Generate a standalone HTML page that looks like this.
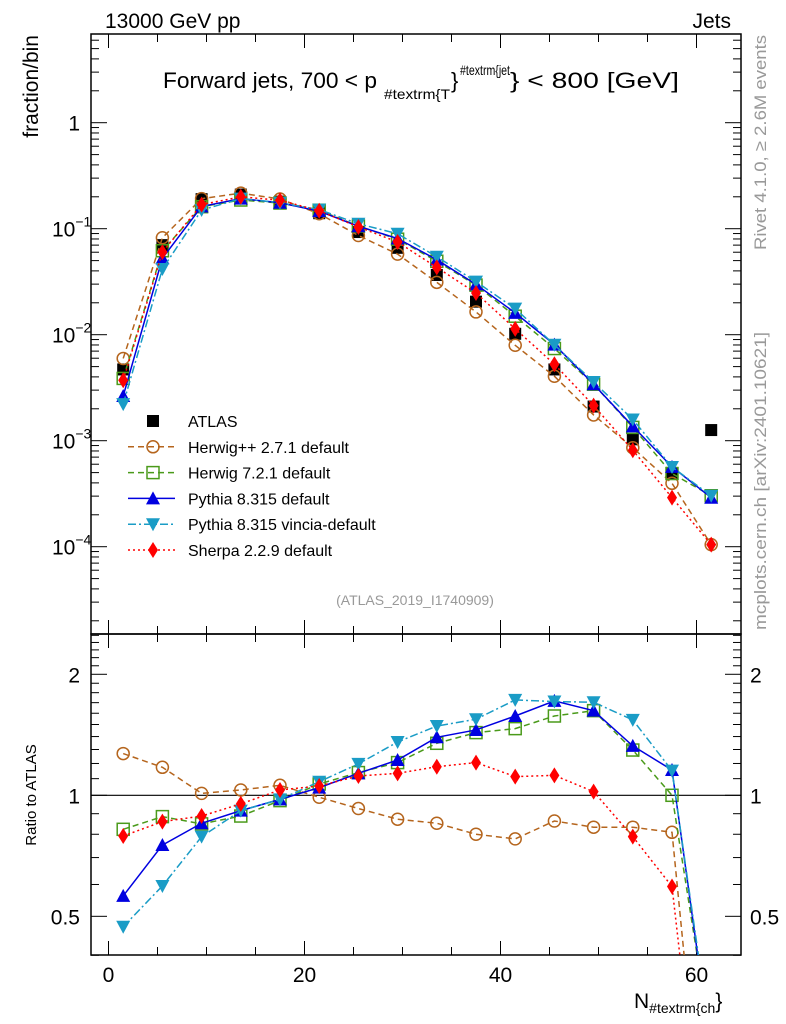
<!DOCTYPE html>
<html><head><meta charset="utf-8"><style>
html,body{margin:0;background:#fff;overflow:hidden}
svg{font-family:"Liberation Sans",sans-serif;display:block}
</style></head><body>
<svg id="c" width="786" height="1024" xmlns="http://www.w3.org/2000/svg"></svg>
<script>
const xs=[1.5,5.5,9.5,13.5,17.5,21.5,25.5,29.5,33.5,37.5,41.5,45.5,49.5,53.5,57.5,61.5];
const atlas=[4.7e-3,0.070,0.19,0.21,0.18,0.14,0.093,0.066,0.0366,0.0205,0.0102,4.7e-3,2.1e-3,1.03e-3,4.9e-4,1.26e-3];
const rHerwigpp=[1.27,1.174,1.011,1.031,1.059,0.989,0.927,0.872,0.852,0.80,0.779,0.863,0.833,0.833,0.809,0.083];
const rHerwig7=[0.823,0.885,0.849,0.888,0.97,1.067,1.139,1.206,1.347,1.432,1.465,1.575,1.624,1.296,1.0,0.24];
const rPythia=[0.562,0.752,0.852,0.916,0.977,1.045,1.134,1.224,1.394,1.454,1.575,1.717,1.624,1.327,1.156,0.23];
const rVincia=[0.471,0.595,0.789,0.916,0.977,1.081,1.197,1.357,1.487,1.546,1.727,1.711,1.704,1.54,1.152,0.24];
const rSherpa=[0.792,0.86,0.888,0.952,1.031,1.055,1.117,1.134,1.178,1.206,1.113,1.121,1.021,0.789,0.593,0.083];
const xTicks=[0,20,40,60];
const yMainTicks=[0,-1,-2,-3,-4];
const yRatioTicks=[0.5,1,2];

const NS="http://www.w3.org/2000/svg";
const svg=document.getElementById('c');
const L=91,R=741,T=34,M=634,B=955;
const X=v=>108.5+v*9.8;
const Y=v=>122.7-Math.log10(v)*106;
const YR=v=>795.3-Math.log10(v)*402;
function el(tag,at,parent){const e=document.createElementNS(NS,tag);for(const k in at)e.setAttribute(k,at[k]);(parent||svg).appendChild(e);return e;}
function txt(s,at,parent){const e=el('text',at,parent);e.textContent=s;return e;}

const defs=el('defs',{});
const c1=el('clipPath',{id:'cm'},defs);el('rect',{x:L,y:T,width:R-L,height:M-T},c1);
const c2=el('clipPath',{id:'cr'},defs);el('rect',{x:L,y:M,width:R-L,height:B-M},c2);

const f1=el('rect',{x:L,y:T,width:R-L,height:M-T,fill:'none',stroke:'#000','stroke-width':1.5});

const f2=el('rect',{x:L,y:M,width:R-L,height:B-M,fill:'none',stroke:'#000','stroke-width':1.5});


for(let v=0;v<=64;v+=5){
  const big=v%20===0, x=X(v), l=big?14:8;
  el('line',{x1:x,x2:x,y1:T,y2:T+l,stroke:'#000'});
  el('line',{x1:x,x2:x,y1:M,y2:M-l,stroke:'#000'});
  el('line',{x1:x,x2:x,y1:M,y2:M+l,stroke:'#000'});
  el('line',{x1:x,x2:x,y1:B,y2:B-l,stroke:'#000'});
}
xTicks.forEach(v=>{const t=txt(String(v),{x:X(v),y:982,'font-size':21,'text-anchor':'middle'});
});

for(let d=-5;d<=1;d++){for(let m=1;m<10;m++){const v=m*Math.pow(10,d);const y=Y(v);if(y<T||y>M)continue;
 const l=m===1?16:8;el('line',{x1:L,x2:L+l,y1:y,y2:y,stroke:'#000'});el('line',{x1:R,x2:R-l,y1:y,y2:y,stroke:'#000'});}}
yMainTicks.forEach(d=>{const y=Y(Math.pow(10,d));
 const t=txt(d===0?'1':'10',{x:d===0?80:52,y:y+8,'font-size':21,'text-anchor':d===0?'end':'start'});
 if(d!==0){const s=el('tspan',{dy:-10,'font-size':14});s.textContent='\u2212'+(-d);t.appendChild(s);}
 });

for(let v=0.4;v<=2.5001;v+=0.1){const y=YR(v);const major=[0.5,1,2].some(a=>Math.abs(a-v)<1e-6);const l=major?16:8;
 el('line',{x1:L,x2:L+l,y1:y,y2:y,stroke:'#000'});el('line',{x1:R,x2:R-l,y1:y,y2:y,stroke:'#000'});}
yRatioTicks.forEach(v=>{const y=YR(v);
 let t=txt(String(v),{x:80,y:y+8,'font-size':21,'text-anchor':'end'});
 t=txt(String(v),{x:750,y:y+8,'font-size':21});});
el('line',{x1:L,x2:R,y1:YR(1),y2:YR(1),stroke:'#000','stroke-width':1.2});

const series=[
 {name:'Herwig++ 2.7.1 default',r:rHerwigpp,c:'#b5651d',dash:'6,4',mk:'circle'},
 {name:'Herwig 7.2.1 default',r:rHerwig7,c:'#4a9a1a',dash:'6,4',mk:'square'},
 {name:'Pythia 8.315 default',r:rPythia,c:'#0000e0',dash:'',mk:'tri'},
 {name:'Pythia 8.315 vincia-default',r:rVincia,c:'#1a9cc6',dash:'8,3,2,3',mk:'dtri'},
 {name:'Sherpa 2.2.9 default',r:rSherpa,c:'#ff0000',dash:'2,3',mk:'diamond'}];
function marker(g,type,x,y,c){
 if(type==='circle')return el('circle',{cx:x,cy:y,r:6,fill:'none',stroke:c,'stroke-width':1.5},g);
 if(type==='square')return el('rect',{x:x-6,y:y-6,width:12,height:12,fill:'none',stroke:c,'stroke-width':1.5},g);
 if(type==='bsquare')return el('rect',{x:x-6,y:y-6,width:12,height:12,fill:c},g);
 if(type==='tri')return el('polygon',{points:`${x},${y-7} ${x-7},${y+6} ${x+7},${y+6}`,fill:c},g);
 if(type==='dtri')return el('polygon',{points:`${x},${y+7} ${x-7},${y-6} ${x+7},${y-6}`,fill:c},g);
 if(type==='diamond')return el('polygon',{points:`${x},${y-8} ${x-5},${y} ${x},${y+8} ${x+5},${y}`,fill:c},g);
}
const ga=el('g',{'clip-path':'url(#cm)'});
xs.forEach((x,i)=>{const m=marker(ga,'bsquare',X(x),Y(atlas[i]),'#000');});
series.forEach((s,si)=>{
 const g=el('g',{'clip-path':'url(#cm)'});
 const pts=xs.map((x,i)=>X(x)+','+Y(atlas[i]*s.r[i])).join(' ');
 el('polyline',{points:pts,fill:'none',stroke:s.c,'stroke-width':1.5,'stroke-dasharray':s.dash},g);
 xs.forEach((x,i)=>{const m=marker(g,s.mk,X(x),Y(atlas[i]*s.r[i]),s.c);});
 const gr=el('g',{'clip-path':'url(#cr)'});
 el('polyline',{points:xs.map((x,i)=>X(x)+','+YR(s.r[i])).join(' '),fill:'none',stroke:s.c,'stroke-width':1.5,'stroke-dasharray':s.dash},gr);
 xs.forEach((x,i)=>{const m=marker(gr,s.mk,X(x),YR(s.r[i]),s.c);});
});

const lg=el('g',{});
const ents=[{name:'ATLAS',mk:'bsquare',c:'#000',dash:null}].concat(series);
ents.forEach((s,i)=>{const y=421+i*25.8;
 const e=el('g',{},lg);
 if(s.dash!==null)el('line',{x1:128,x2:175,y1:y,y2:y,stroke:s.c,'stroke-width':1.5,'stroke-dasharray':s.dash},e);
 marker(e,s.mk,153,y,s.c);
 txt(s.name,{x:188,y:y+6,'font-size':16},e);});

const labels=[
 ['13000 GeV pp',{x:105,y:28,'font-size':21},'header-energy'],
 ['Jets',{x:731,y:28,'font-size':21,'text-anchor':'end'},'header-process'],
 ['(ATLAS_2019_I1740909)',{x:415,y:605,'font-size':14,fill:'#999','text-anchor':'middle'},'analysis-id'],
];
labels.forEach(([s,a,n])=>{const t=txt(s,a);});
let t=txt('Forward jets, 700 < p',{x:163,y:88,'font-size':22,textLength:214,lengthAdjust:'spacingAndGlyphs'});

t=txt('#textrm{T',{x:384,y:99,'font-size':14,textLength:66,lengthAdjust:'spacingAndGlyphs'});

t=txt('}',{x:451,y:88,'font-size':22});

t=txt('#textrm{jet',{x:460,y:75,'font-size':14,textLength:50,lengthAdjust:'spacingAndGlyphs'});

t=txt('} < 800 [GeV]',{x:510,y:88,'font-size':22,textLength:169,lengthAdjust:'spacingAndGlyphs'});

t=txt('fraction/bin',{x:0,y:0,'font-size':21,'text-anchor':'end',transform:'translate(38,35) rotate(-90)'});

t=txt('Ratio to ATLAS',{x:0,y:0,'font-size':15,'text-anchor':'middle',transform:'translate(36,795) rotate(-90)'});

t=txt('Rivet 4.1.0, \u2265 2.6M events',{x:0,y:0,'font-size':17,fill:'#999','text-anchor':'end',textLength:215,lengthAdjust:'spacingAndGlyphs',transform:'translate(766,35) rotate(-90)'});

t=txt('mcplots.cern.ch [arXiv:2401.10621]',{x:0,y:0,'font-size':17,fill:'#999','text-anchor':'end',textLength:298,lengthAdjust:'spacingAndGlyphs',transform:'translate(766,332) rotate(-90)'});

t=txt('N',{x:634,y:1008,'font-size':21});
let sp=el('tspan',{dy:5,'font-size':14});sp.textContent='#textrm{ch';t.appendChild(sp);
sp=el('tspan',{dy:-5,'font-size':21});sp.textContent='}';t.appendChild(sp);

</script>
</body></html>
